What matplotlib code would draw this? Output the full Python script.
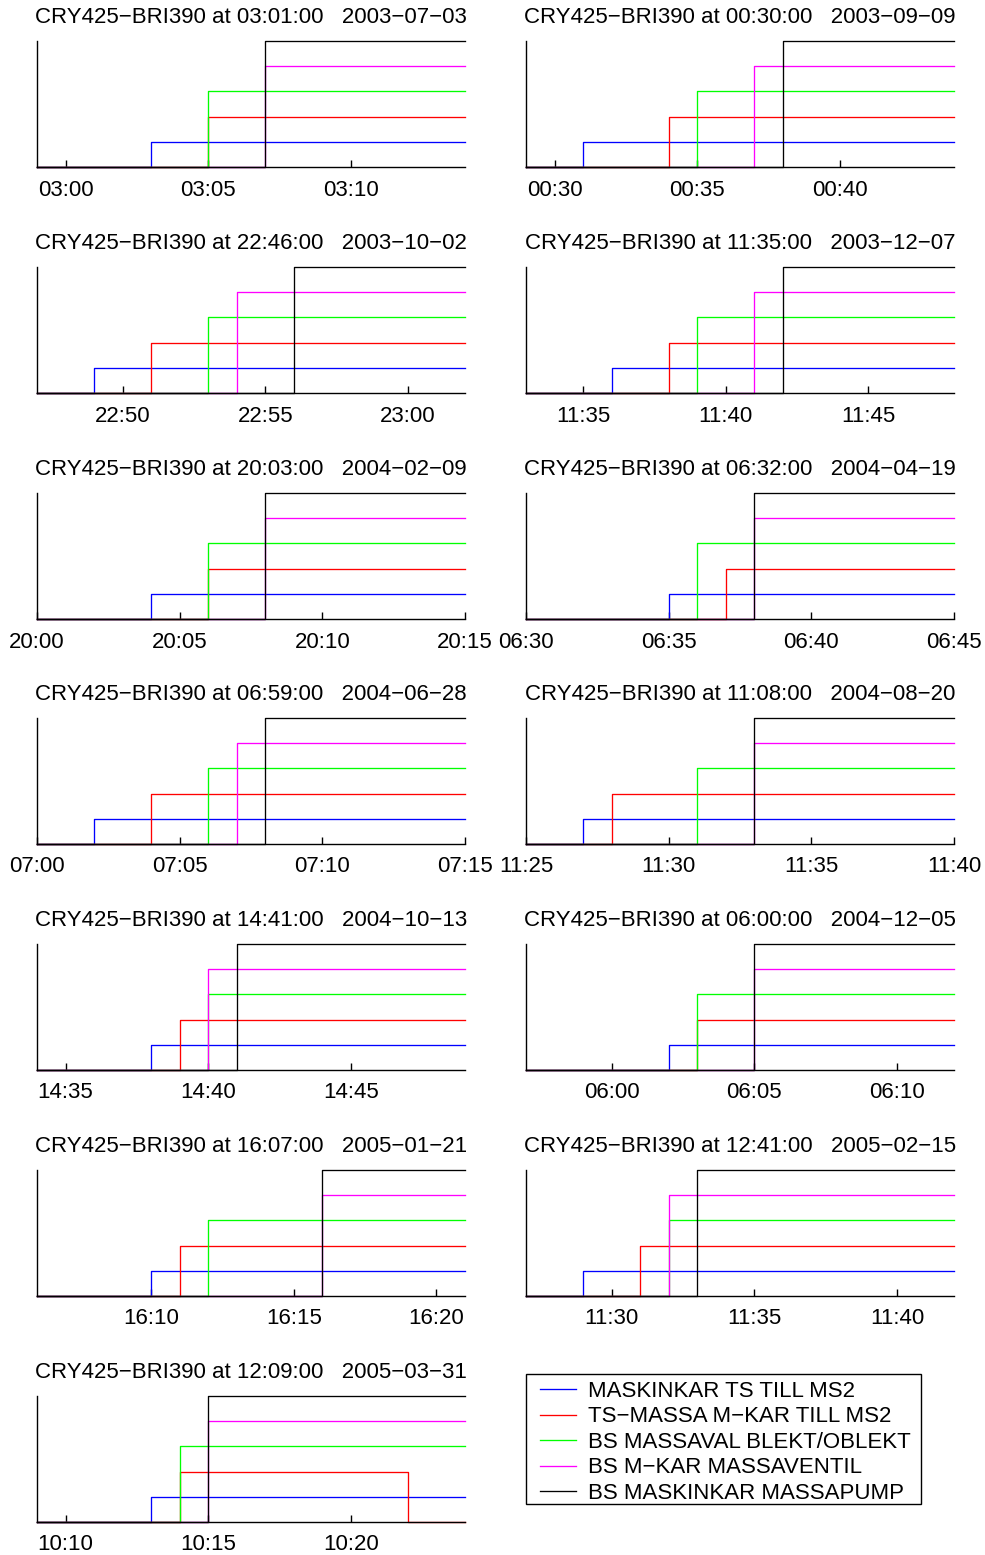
import datetime as dt
import matplotlib
matplotlib.use("Agg")
import matplotlib.pyplot as plt
import matplotlib.dates as mdates
from matplotlib.patches import Rectangle

plt.rcParams['font.family'] = ['Liberation Sans', 'DejaVu Sans']

# ---------------- data ----------------
title_times = ["03:01:00", "00:30:00", "22:46:00", "11:35:00", "20:03:00", "06:32:00", "06:59:00",
               "11:08:00", "14:41:00", "06:00:00", "16:07:00", "12:41:00", "12:09:00"]
title_dates = ["2003-07-03", "2003-09-09", "2003-10-02", "2003-12-07", "2004-02-09", "2004-04-19",
               "2004-06-28", "2004-08-20", "2004-10-13", "2004-12-05", "2005-01-21", "2005-02-15",
               "2005-03-31"]
window_start = ["02:59", "00:29", "22:47", "11:33", "20:00", "06:30", "07:00",
                "11:25", "14:34", "05:57", "16:06", "11:27", "10:09"]
window_minutes = 15

signal_names = ["MASKINKAR TS TILL MS2", "TS\u2212MASSA M\u2212KAR TILL MS2",
                "BS MASSAVAL BLEKT/OBLEKT", "BS M\u2212KAR MASSAVENTIL", "BS MASKINKAR MASSAPUMP"]
signal_levels = [1, 2, 3, 4, 5]
blue_on = ["03:03", "00:31", "22:49", "11:36", "20:04", "06:35", "07:02",
           "11:27", "14:38", "06:02", "16:10", "11:29", "10:13"]
red_on = ["03:05", "00:34", "22:51", "11:38", "20:06", "06:37", "07:04",
          "11:28", "14:39", "06:03", "16:11", "11:31", "10:14"]
green_on = ["03:05", "00:35", "22:53", "11:39", "20:06", "06:36", "07:06",
            "11:31", "14:40", "06:03", "16:12", "11:32", "10:14"]
magenta_on = ["03:07", "00:37", "22:54", "11:41", "20:08", "06:38", "07:07",
              "11:33", "14:40", "06:05", "16:16", "11:32", "10:15"]
black_on = ["03:07", "00:38", "22:56", "11:42", "20:08", "06:38", "07:08",
            "11:33", "14:41", "06:05", "16:16", "11:33", "10:15"]
red_off = [None] * 12 + ["10:22"]

signal_on = [blue_on, red_on, green_on, magenta_on, black_on]
signal_off = [[None] * 13, red_off, [None] * 13, [None] * 13, [None] * 13]
signal_colors = ["#0000ff", "#ff0000", "#00ff00", "#ff00ff", "#000000"]

# ---------------- layout ----------------
W, H = 985, 1555
fig = plt.figure(figsize=(W / 100, H / 100), dpi=100)
col_left = [37, 526]
ax_w = 428
row_top = [41, 267, 493, 718, 944, 1170, 1396]
ax_h = 126
FS = 16


def t(date_str, hm):
    d = dt.date.fromisoformat(date_str)
    h, m = map(int, hm.split(":"))
    return dt.datetime(d.year, d.month, d.day, h, m)


handles = []
for i in range(13):
    r, c = divmod(i, 2)
    x0 = col_left[c]
    y0 = row_top[r]
    ax = fig.add_axes([x0 / W, 1 - (y0 + ax_h) / H, ax_w / W, ax_h / H])
    start = t(title_dates[i], window_start[i])
    end = start + dt.timedelta(minutes=window_minutes)
    handles = []
    for s in range(5):
        on = t(title_dates[i], signal_on[s][i])
        off = signal_off[s][i]
        lvl = signal_levels[s]
        if off is None:
            xs = [start, on, end]
            ys = [0, lvl, lvl]
        else:
            xs = [start, on, t(title_dates[i], off), end]
            ys = [0, lvl, 0, 0]
        ln, = ax.plot(xs, ys, drawstyle="steps-post", color=signal_colors[s], lw=0.95,
                      clip_on=False, label=signal_names[s])
        handles.append(ln)
    ax.set_xlim(start, end)
    ax.set_ylim(0, 5)
    ax.xaxis.set_major_locator(mdates.MinuteLocator(byminute=range(0, 60, 5)))
    ax.xaxis.set_major_formatter(mdates.DateFormatter("%H:%M"))
    ax.set_yticks([])
    for sp in ["top", "right"]:
        ax.spines[sp].set_visible(False)
    for sp in ["left", "bottom"]:
        ax.spines[sp].set_linewidth(1.0)
    ax.tick_params(axis="x", direction="in", length=5, width=1.0, labelsize=FS, pad=9)
    ax.set_title("CRY425\u2212BRI390 at %s   %s" % (title_times[i], title_dates[i].replace("-", "\u2212")),
                 fontsize=FS, pad=13)

# legend box (frame drawn as a figure rectangle)
fig.patches.append(Rectangle((526 / W, 1 - 1504 / H), (921 - 526) / W, (1504 - 1374) / H,
                             transform=fig.transFigure, fill=False, edgecolor="black",
                             linewidth=1.0))
leg = fig.legend(handles=handles, labels=signal_names, loc="upper left",
                 bbox_to_anchor=(540 / W, 1 - 1381 / H), fontsize=FS, frameon=False,
                 handlelength=1.62, handletextpad=0.54,
                 labelspacing=0.2, borderpad=0.0, borderaxespad=0)

fig.savefig("out.png", dpi=100)
